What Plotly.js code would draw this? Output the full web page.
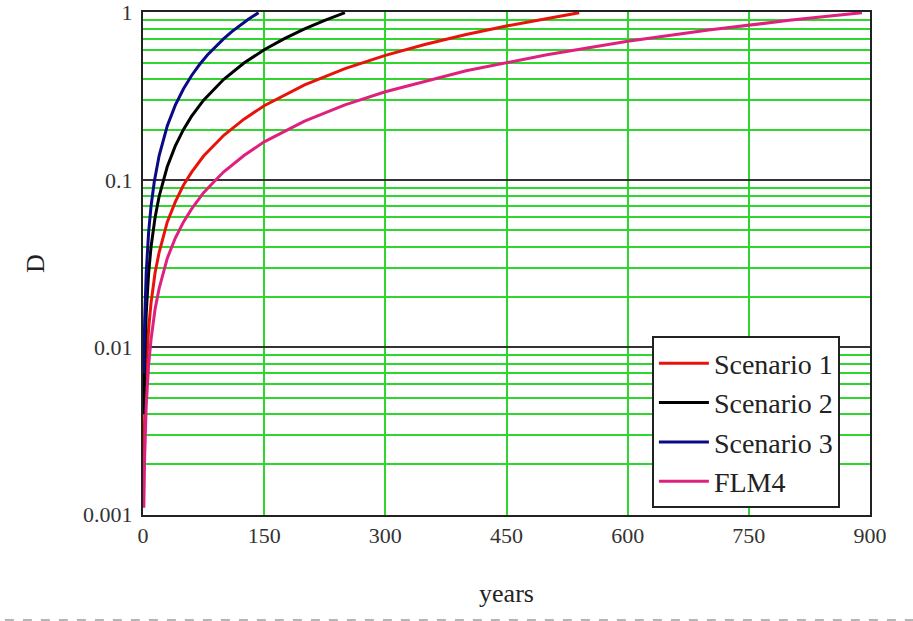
<!DOCTYPE html>
<html>
<head>
<meta charset="utf-8">
<script src="https://cdn.plot.ly/plotly-3.0.1.min.js"></script>
<style>
  html, body { margin: 0; padding: 0; background: #ffffff; }
  #chart { width: 913px; height: 621px; }
</style>
</head>
<body>
<div id="chart"></div>
<script>
// Damage D against time in years, one series per scenario
const scenarioNames = ['Scenario 1', 'Scenario 2', 'Scenario 3', 'FLM4'];

const years1 = [1, 2, 4, 7, 10, 15, 20, 30, 40, 50, 60, 75, 100, 125, 150, 200, 250, 300, 350, 400, 450, 500, 540];
const damage1 = [0.00185, 0.0037, 0.0074, 0.013, 0.0185, 0.028, 0.037, 0.056, 0.074, 0.093, 0.111, 0.139, 0.185, 0.231, 0.278, 0.37, 0.463, 0.556, 0.648, 0.74, 0.833, 0.926, 1.0];

const years2 = [1, 2, 4, 7, 10, 15, 20, 25, 30, 40, 50, 60, 75, 100, 125, 150, 175, 200, 225, 250];
const damage2 = [0.004, 0.008, 0.016, 0.028, 0.04, 0.06, 0.08, 0.1, 0.12, 0.16, 0.2, 0.24, 0.3, 0.4, 0.5, 0.6, 0.7, 0.8, 0.9, 1.0];

const years3 = [1, 2, 4, 7, 10, 14, 20, 25, 30, 40, 50, 60, 70, 80, 90, 100, 110, 120, 130, 143];
const damage3 = [0.007, 0.014, 0.028, 0.049, 0.07, 0.098, 0.14, 0.175, 0.21, 0.28, 0.35, 0.42, 0.49, 0.56, 0.63, 0.70, 0.77, 0.84, 0.91, 1.0];

const years4 = [1, 2, 4, 7, 10, 15, 20, 30, 40, 50, 60, 75, 90, 100, 125, 150, 200, 250, 300, 400, 500, 600, 700, 800, 890];
const damage4 = [0.0011, 0.0022, 0.0045, 0.0079, 0.0112, 0.017, 0.0225, 0.034, 0.045, 0.056, 0.067, 0.084, 0.1, 0.112, 0.14, 0.169, 0.225, 0.281, 0.337, 0.45, 0.56, 0.674, 0.787, 0.9, 1.0];

const xTicks = [0, 150, 300, 450, 600, 750, 900];
const yTicks = [0.001, 0.01, 0.1, 1];
const yTickText = ['0.001', '0.01', '0.1', '1'];

const lineColors = ['#e8140c', '#000000', '#0a0a86', '#e0207e'];
const seriesX = [years1, years2, years3, years4];
const seriesY = [damage1, damage2, damage3, damage4];

const traces = scenarioNames.map((name, i) => ({
  type: 'scatter',
  mode: 'lines',
  name: name,
  x: seriesX[i],
  y: seriesY[i],
  line: { color: lineColors[i], width: 3 },
  hoverinfo: 'skip'
}));

const serif = 'Liberation Serif, Times New Roman, serif';
const green = '#2ed62e';

const layout = {
  width: 913,
  height: 621,
  margin: { l: 143, r: 43, t: 12, b: 106 },
  paper_bgcolor: '#ffffff',
  plot_bgcolor: '#ffffff',
  font: { family: serif, color: '#222222', size: 22 },
  showlegend: true,
  legend: {
    x: 0.700, y: 0.355, xanchor: 'left', yanchor: 'top',
    bgcolor: '#ffffff',
    bordercolor: '#222222',
    borderwidth: 2,
    font: { family: serif, size: 28, color: '#222222' },
    itemwidth: 50,
    entrywidth: 196
  },
  xaxis: {
    range: [0, 900],
    tickvals: xTicks,
    ticktext: xTicks.map(String),
    showgrid: true,
    gridcolor: green,
    gridwidth: 2,
    zeroline: false,
    showline: true,
    linecolor: '#222222',
    linewidth: 2,
    mirror: true,
    ticks: '',
    tickfont: { family: serif, size: 22, color: '#333333' },
    title: { text: 'years', font: { family: serif, size: 26, color: '#222222' }, standoff: 36 },
    automargin: false
  },
  yaxis: {
    type: 'log',
    range: [-3.002, 0.004],
    tickvals: yTicks,
    ticktext: yTickText,
    showgrid: true,
    gridcolor: '#333333',
    gridwidth: 2,
    zeroline: false,
    showline: true,
    linecolor: '#222222',
    linewidth: 2,
    mirror: true,
    ticks: '',
    ticklabelstandoff: 4,
    tickfont: { family: serif, size: 22, color: '#333333' },
    minor: { dtick: 'D1', showgrid: true, gridcolor: green, gridwidth: 2, ticks: '' },
    title: { text: 'D', font: { family: serif, size: 26, color: '#222222' }, standoff: 31 },
    automargin: false
  },
  shapes: [{
    type: 'line', xref: 'paper', yref: 'paper',
    x0: -0.19, x1: 1.06, y0: -0.2087, y1: -0.2087,
    line: { color: '#b5b5b5', width: 2, dash: 'dash' }
  }]
};

Plotly.newPlot('chart', traces, layout, { staticPlot: true, displayModeBar: false });
</script>
</body>
</html>
